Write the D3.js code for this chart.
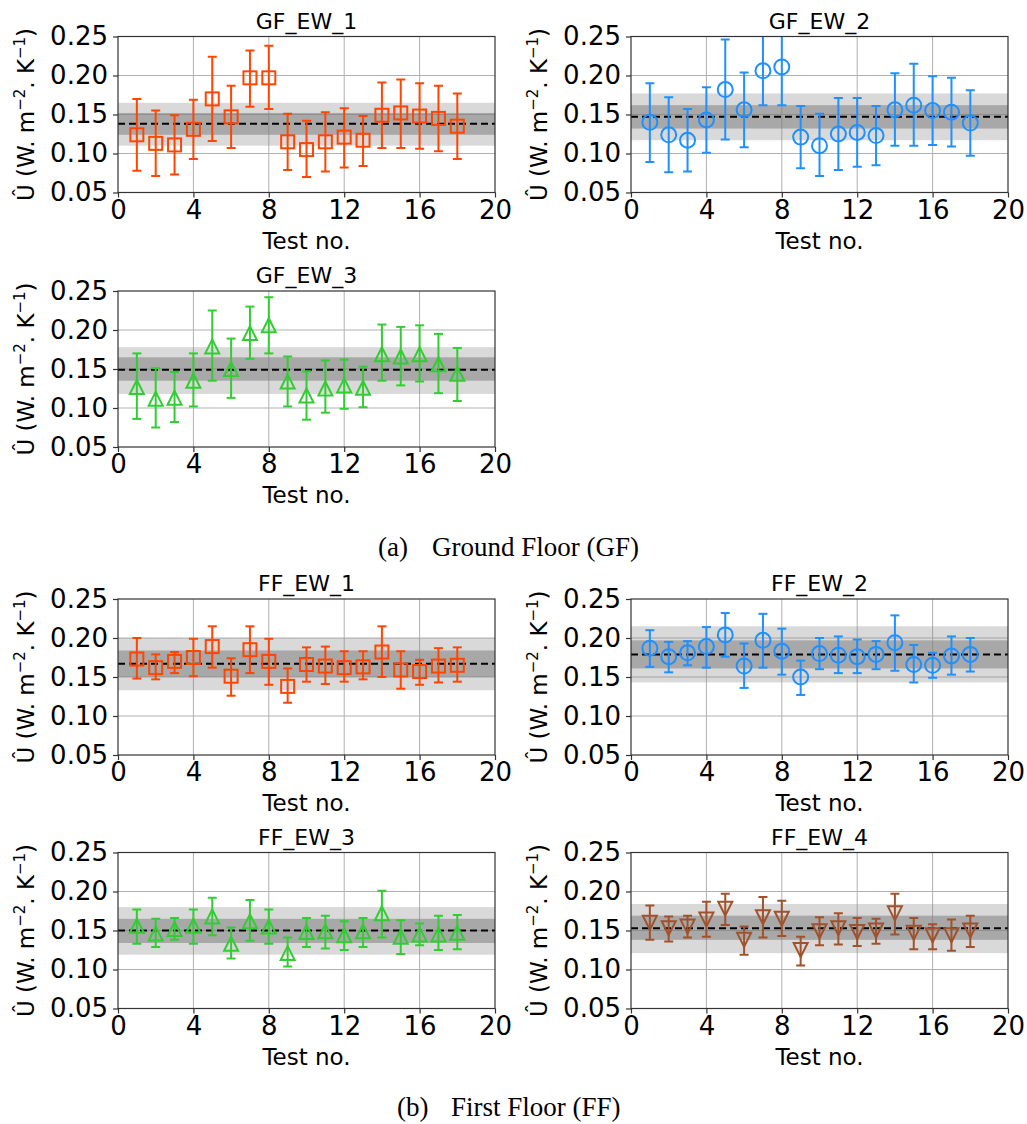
<!DOCTYPE html>
<html>
<head>
<meta charset="utf-8">
<script src="https://cdn.jsdelivr.net/npm/d3@7"></script>
<style>
  body { margin: 0; background: #fff; }
  svg { display: block; }
</style>
</head>
<body>
<div id="chart"></div>
<script>
// ---- data ----
var testNo = [1, 2, 3, 4, 5, 6, 7, 8, 9, 10, 11, 12, 13, 14, 15, 16, 17, 18];
var xTicks = [0, 4, 8, 12, 16, 20];
var yTicks = [0.05, 0.10, 0.15, 0.20, 0.25];

// GF_EW_1
var gf1Mid = [0.124, 0.113, 0.111, 0.131, 0.170, 0.147, 0.197, 0.197, 0.115, 0.105, 0.115, 0.121, 0.117, 0.149, 0.152, 0.148, 0.145, 0.135];
var gf1Lo  = [0.078, 0.071, 0.073, 0.093, 0.116, 0.107, 0.160, 0.157, 0.079, 0.070, 0.077, 0.082, 0.084, 0.107, 0.107, 0.106, 0.103, 0.093];
var gf1Hi  = [0.170, 0.155, 0.149, 0.169, 0.224, 0.187, 0.232, 0.238, 0.151, 0.142, 0.153, 0.158, 0.148, 0.191, 0.195, 0.190, 0.187, 0.177];
var gf1Mean = 0.138, gf1Inner = [0.124, 0.152], gf1Outer = [0.110, 0.165];

// GF_EW_2
var gf2Mid = [0.140, 0.124, 0.117, 0.143, 0.182, 0.156, 0.206, 0.211, 0.121, 0.110, 0.125, 0.127, 0.123, 0.156, 0.162, 0.155, 0.153, 0.139];
var gf2Lo  = [0.089, 0.076, 0.077, 0.101, 0.118, 0.108, 0.162, 0.162, 0.081, 0.071, 0.079, 0.083, 0.085, 0.110, 0.110, 0.111, 0.109, 0.097];
var gf2Hi  = [0.190, 0.172, 0.157, 0.185, 0.246, 0.204, 0.251, 0.256, 0.161, 0.151, 0.171, 0.171, 0.161, 0.203, 0.215, 0.199, 0.197, 0.181];
var gf2Mean = 0.147, gf2Inner = [0.132, 0.162], gf2Outer = [0.117, 0.177];

// GF_EW_3
var gf3Mid = [0.127, 0.112, 0.113, 0.135, 0.179, 0.150, 0.196, 0.206, 0.134, 0.116, 0.125, 0.129, 0.126, 0.169, 0.166, 0.169, 0.156, 0.144];
var gf3Lo  = [0.086, 0.075, 0.082, 0.102, 0.135, 0.113, 0.163, 0.170, 0.102, 0.085, 0.094, 0.099, 0.101, 0.135, 0.129, 0.134, 0.119, 0.109];
var gf3Hi  = [0.170, 0.151, 0.146, 0.170, 0.225, 0.189, 0.230, 0.242, 0.166, 0.147, 0.161, 0.162, 0.153, 0.207, 0.204, 0.206, 0.195, 0.177];
var gf3Mean = 0.149, gf3Inner = [0.135, 0.165], gf3Outer = [0.118, 0.178];

// FF_EW_1
var ff1Mid = [0.173, 0.162, 0.170, 0.175, 0.189, 0.151, 0.185, 0.170, 0.138, 0.166, 0.164, 0.162, 0.163, 0.182, 0.159, 0.157, 0.164, 0.165];
var ff1Lo  = [0.148, 0.147, 0.155, 0.151, 0.162, 0.126, 0.155, 0.140, 0.117, 0.144, 0.141, 0.144, 0.147, 0.150, 0.135, 0.140, 0.143, 0.144];
var ff1Hi  = [0.200, 0.179, 0.182, 0.199, 0.215, 0.174, 0.215, 0.199, 0.161, 0.188, 0.189, 0.183, 0.183, 0.215, 0.183, 0.172, 0.187, 0.188];
var ff1Mean = 0.167, ff1Inner = [0.150, 0.184], ff1Outer = [0.133, 0.200];

// FF_EW_2
var ff2Mid = [0.187, 0.176, 0.181, 0.189, 0.204, 0.164, 0.197, 0.183, 0.150, 0.180, 0.178, 0.176, 0.179, 0.194, 0.166, 0.165, 0.177, 0.179];
var ff2Lo  = [0.163, 0.156, 0.165, 0.162, 0.176, 0.136, 0.162, 0.153, 0.127, 0.160, 0.155, 0.155, 0.160, 0.158, 0.143, 0.149, 0.153, 0.157];
var ff2Hi  = [0.210, 0.195, 0.196, 0.214, 0.232, 0.193, 0.231, 0.212, 0.171, 0.200, 0.202, 0.198, 0.196, 0.229, 0.191, 0.181, 0.202, 0.200];
var ff2Mean = 0.179, ff2Inner = [0.161, 0.197], ff2Outer = [0.143, 0.215];

// FF_EW_3
var ff3Mid = [0.156, 0.146, 0.152, 0.156, 0.168, 0.133, 0.162, 0.155, 0.121, 0.148, 0.149, 0.144, 0.149, 0.172, 0.142, 0.145, 0.145, 0.147];
var ff3Lo  = [0.133, 0.129, 0.138, 0.133, 0.144, 0.114, 0.137, 0.133, 0.104, 0.129, 0.127, 0.125, 0.129, 0.141, 0.120, 0.131, 0.125, 0.126];
var ff3Hi  = [0.177, 0.165, 0.166, 0.177, 0.192, 0.154, 0.189, 0.177, 0.141, 0.166, 0.169, 0.162, 0.166, 0.201, 0.163, 0.159, 0.169, 0.170];
var ff3Mean = 0.150, ff3Inner = [0.134, 0.165], ff3Outer = [0.119, 0.180];

// FF_EW_4
var ff4Mid = [0.160, 0.153, 0.155, 0.164, 0.178, 0.138, 0.167, 0.165, 0.125, 0.149, 0.153, 0.148, 0.150, 0.172, 0.147, 0.144, 0.144, 0.150];
var ff4Lo  = [0.138, 0.136, 0.141, 0.142, 0.157, 0.119, 0.141, 0.143, 0.105, 0.131, 0.132, 0.130, 0.133, 0.145, 0.126, 0.126, 0.124, 0.129];
var ff4Hi  = [0.182, 0.168, 0.169, 0.187, 0.197, 0.155, 0.193, 0.188, 0.142, 0.167, 0.172, 0.166, 0.165, 0.197, 0.166, 0.158, 0.164, 0.169];
var ff4Mean = 0.153, ff4Inner = [0.138, 0.169], ff4Outer = [0.121, 0.184];

// ---- layout ----
var W = 377, H = 156;
var panels = [
    { title: "GF_EW_1", mid: gf1Mid, lo: gf1Lo, hi: gf1Hi, mean: gf1Mean, inner: gf1Inner, outer: gf1Outer, color: "#ff4500", marker: "square", left: 118, top: 36.5 },
    { title: "GF_EW_2", mid: gf2Mid, lo: gf2Lo, hi: gf2Hi, mean: gf2Mean, inner: gf2Inner, outer: gf2Outer, color: "#1e90ff", marker: "circle", left: 631, top: 36.5 },
    { title: "GF_EW_3", mid: gf3Mid, lo: gf3Lo, hi: gf3Hi, mean: gf3Mean, inner: gf3Inner, outer: gf3Outer, color: "#32cd32", marker: "up", left: 118, top: 291 },
    { title: "FF_EW_1", mid: ff1Mid, lo: ff1Lo, hi: ff1Hi, mean: ff1Mean, inner: ff1Inner, outer: ff1Outer, color: "#ff4500", marker: "square", left: 118, top: 599 },
    { title: "FF_EW_2", mid: ff2Mid, lo: ff2Lo, hi: ff2Hi, mean: ff2Mean, inner: ff2Inner, outer: ff2Outer, color: "#1e90ff", marker: "circle", left: 631, top: 599 },
    { title: "FF_EW_3", mid: ff3Mid, lo: ff3Lo, hi: ff3Hi, mean: ff3Mean, inner: ff3Inner, outer: ff3Outer, color: "#32cd32", marker: "up", left: 118, top: 852.5 },
    { title: "FF_EW_4", mid: ff4Mid, lo: ff4Lo, hi: ff4Hi, mean: ff4Mean, inner: ff4Inner, outer: ff4Outer, color: "#a0522d", marker: "down", left: 631, top: 852.5 }
];

var svg = d3.select("#chart").append("svg")
    .attr("width", 1027)
    .attr("height", 1124)
    .style("font-family", "'DejaVu Sans', sans-serif");

var x = d3.scaleLinear().domain([0, 20]).range([0, W]);
var y = d3.scaleLinear().domain([0.05, 0.25]).range([H, 0]);

function markerPath(type, s) {
    if (type == "up")
        return "M0," + (-s) + "L" + s + "," + s + "L" + (-s) + "," + s + "Z";
    else if (type == "down")
        return "M0," + s + "L" + s + "," + (-s) + "L" + (-s) + "," + (-s) + "Z";
    return "";
}

panels.forEach(function(p, k) {
    var g = svg.append("g").attr("transform", "translate(" + p.left + "," + p.top + ")");

    g.append("clipPath").attr("id", "clip" + k)
        .append("rect").attr("width", W).attr("height", H);

    // grid
    g.selectAll(".vgrid").data([4, 8, 12, 16]).enter().append("line")
        .attr("x1", function(d) { return x(d); }).attr("x2", function(d) { return x(d); })
        .attr("y1", 0).attr("y2", H)
        .attr("stroke", "#b0b0b0").attr("stroke-width", 1);
    g.selectAll(".hgrid").data([0.10, 0.15, 0.20]).enter().append("line")
        .attr("x1", 0).attr("x2", W)
        .attr("y1", function(d) { return y(d); }).attr("y2", function(d) { return y(d); })
        .attr("stroke", "#b0b0b0").attr("stroke-width", 1);

    // uncertainty bands
    g.append("rect")
        .attr("x", 0).attr("width", W)
        .attr("y", y(p.outer[1])).attr("height", y(p.outer[0]) - y(p.outer[1]))
        .attr("fill", "#808080").attr("fill-opacity", 0.3);
    g.append("rect")
        .attr("x", 0).attr("width", W)
        .attr("y", y(p.inner[1])).attr("height", y(p.inner[0]) - y(p.inner[1]))
        .attr("fill", "#808080").attr("fill-opacity", 0.55);

    // mean line
    g.append("line")
        .attr("x1", 0).attr("x2", W)
        .attr("y1", y(p.mean)).attr("y2", y(p.mean))
        .attr("stroke", "#000").attr("stroke-width", 2)
        .attr("stroke-dasharray", "7,4");

    var pts = g.append("g").attr("clip-path", "url(#clip" + k + ")");
    var rows = testNo.map(function(t, i) { return { t: t, m: p.mid[i], lo: p.lo[i], hi: p.hi[i] }; });

    // error bars
    var eb = pts.selectAll(".eb").data(rows).enter().append("g")
        .attr("stroke", p.color).attr("stroke-width", 2).attr("fill", "none");
    eb.append("line")
        .attr("x1", function(d) { return x(d.t); }).attr("x2", function(d) { return x(d.t); })
        .attr("y1", function(d) { return y(d.lo); }).attr("y2", function(d) { return y(d.hi); });
    eb.append("line")
        .attr("x1", function(d) { return x(d.t) - 4.5; }).attr("x2", function(d) { return x(d.t) + 4.5; })
        .attr("y1", function(d) { return y(d.lo); }).attr("y2", function(d) { return y(d.lo); });
    eb.append("line")
        .attr("x1", function(d) { return x(d.t) - 4.5; }).attr("x2", function(d) { return x(d.t) + 4.5; })
        .attr("y1", function(d) { return y(d.hi); }).attr("y2", function(d) { return y(d.hi); });

    // markers
    if (p.marker == "square") {
        pts.selectAll(".mk").data(rows).enter().append("rect")
            .attr("x", function(d) { return x(d.t) - 6.5; })
            .attr("y", function(d) { return y(d.m) - 6.5; })
            .attr("width", 13).attr("height", 13)
            .attr("fill", "none").attr("stroke", p.color).attr("stroke-width", 2);
    } else if (p.marker == "circle") {
        pts.selectAll(".mk").data(rows).enter().append("circle")
            .attr("cx", function(d) { return x(d.t); })
            .attr("cy", function(d) { return y(d.m); })
            .attr("r", 7.5)
            .attr("fill", "none").attr("stroke", p.color).attr("stroke-width", 2);
    } else {
        pts.selectAll(".mk").data(rows).enter().append("path")
            .attr("transform", function(d) { return "translate(" + x(d.t) + "," + y(d.m) + ")"; })
            .attr("d", markerPath(p.marker, 7))
            .attr("fill", "none").attr("stroke", p.color).attr("stroke-width", 2)
            .attr("stroke-linejoin", "miter");
    }

    // axes
    var ya = g.append("g")
        .call(d3.axisLeft(y).tickValues(yTicks).tickFormat(d3.format(".2f")).tickSize(5).tickPadding(5));
    var xa = g.append("g").attr("transform", "translate(0," + H + ")")
        .call(d3.axisBottom(x).tickValues(xTicks).tickSize(5).tickPadding(3));
    [ya, xa].forEach(function(a) {
        a.select(".domain").remove();
        a.selectAll("line").attr("stroke", "#333").attr("stroke-width", 1.2);
        a.selectAll("text").attr("fill", "#000")
            .style("font-size", "26px").style("font-family", "'DejaVu Sans', sans-serif");
    });

    // frame
    g.append("rect").attr("width", W).attr("height", H)
        .attr("fill", "none").attr("stroke", "#333").attr("stroke-width", 1.2);

    // title
    g.append("text").attr("x", W / 2).attr("y", -8)
        .attr("text-anchor", "middle").style("font-size", "22px")
        .text(p.title);

    // x label
    g.append("text").attr("x", W / 2).attr("y", H + 56)
        .attr("text-anchor", "middle").style("font-size", "23px")
        .text("Test no.");

    // y label
    var yl = g.append("text")
        .attr("transform", "translate(-84," + (H / 2) + ") rotate(-90)")
        .attr("text-anchor", "middle").style("font-size", "23px");
    yl.append("tspan").text("Û (W. m");
    yl.append("tspan").attr("baseline-shift", "super").style("font-size", "15px").text("−2");
    yl.append("tspan").text(". K");
    yl.append("tspan").attr("baseline-shift", "super").style("font-size", "15px").text("−1");
    yl.append("tspan").text(")");
});

// sub-figure captions
var captions = [
    { tag: "(a)", text: "Ground Floor (GF)", x: 378, y: 556 },
    { tag: "(b)", text: "First Floor (FF)", x: 397, y: 1116 }
];
captions.forEach(function(c) {
    svg.append("text").attr("x", c.x).attr("y", c.y)
        .style("font-family", "'Liberation Serif', serif").style("font-size", "27px")
        .text(c.tag);
    svg.append("text").attr("x", c.x + 54).attr("y", c.y)
        .style("font-family", "'Liberation Serif', serif").style("font-size", "27px")
        .text(c.text);
});
</script>
</body>
</html>
